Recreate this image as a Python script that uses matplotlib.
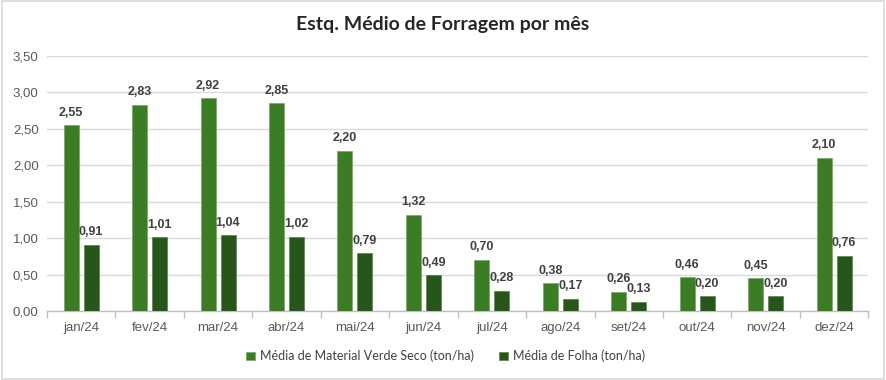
import matplotlib
matplotlib.use("Agg")
import matplotlib.pyplot as plt
import numpy as np
from matplotlib.patches import Rectangle

months = ["jan/24", "fev/24", "mar/24", "abr/24", "mai/24", "jun/24",
          "jul/24", "ago/24", "set/24", "out/24", "nov/24", "dez/24"]
verde_seco = [2.55, 2.83, 2.92, 2.85, 2.20, 1.32, 0.70, 0.38, 0.26, 0.46, 0.45, 2.10]
folha = [0.91, 1.01, 1.04, 1.02, 0.79, 0.49, 0.28, 0.17, 0.13, 0.20, 0.20, 0.76]
series_names = ["Média de Material Verde Seco (ton/ha)", "Média de Folha (ton/ha)"]
colors = ["#3b7d23", "#27561a"]
yticks = [0, 0.5, 1.0, 1.5, 2.0, 2.5, 3.0, 3.5]

fig = plt.figure(figsize=(8.86, 3.80), dpi=100)
fig.patch.set_facecolor("white")
fig.patches.append(Rectangle((0.002, 0.003), 0.996, 0.994, transform=fig.transFigure,
                             fill=False, edgecolor="#d9d9d9", linewidth=1.2))

ax = fig.add_axes([0.053, 0.1816, 0.927, 0.671])
x = np.arange(len(months))
w = 0.22
off = 0.146
b1 = ax.bar(x - off, verde_seco, w, color=colors[0], edgecolor="#6fa05a", linewidth=0.4,
            label=series_names[0], zorder=3)
b2 = ax.bar(x + off, folha, w, color=colors[1], edgecolor="#4a7a3a", linewidth=0.4,
            label=series_names[1], zorder=3)

def fmt(v):
    return f"{v:.2f}".replace(".", ",")

for xi, v in zip(x, verde_seco):
    ax.text(xi - off, v + 0.09, fmt(v), ha="center", va="bottom", fontsize=9,
            fontweight="bold", color="#404040", family="Liberation Sans")
for xi, v in zip(x, folha):
    ax.text(xi + off, v + 0.09, fmt(v), ha="center", va="bottom", fontsize=9,
            fontweight="bold", color="#404040", family="Liberation Sans")

ax.set_xlim(-0.5, len(months) - 0.5)
ax.set_ylim(0, 3.5)
ax.set_yticks(yticks)
ax.set_yticklabels([fmt(t) for t in yticks], fontsize=9.5, color="#595959",
                   family="Liberation Sans")
ax.set_xticks(x)
ax.set_xticklabels(months, fontsize=9.5, color="#595959", family="Liberation Sans")
ax.tick_params(axis="x", length=0, pad=8)
ax.tick_params(axis="y", length=0, pad=6)
ax.set_xticks(np.arange(-0.5, len(months)), minor=True)
ax.tick_params(axis="x", which="minor", length=5, color="#bfbfbf", width=1)
ax.grid(axis="y", color="#d9d9d9", linewidth=1, zorder=0)
for s in ["top", "right", "left"]:
    ax.spines[s].set_visible(False)
ax.spines["bottom"].set_color("#bfbfbf")
ax.spines["bottom"].set_linewidth(1)

fig.text(0.5, 0.935, "Estq. Médio de Forragem por mês", ha="center", va="center",
         fontsize=14, fontweight="bold", color="#262626", family="Lato")

leg = fig.legend(handles=[b1, b2], loc="center", bbox_to_anchor=(0.503, 0.063), ncol=2,
                 frameon=False, handlelength=0.7, handleheight=0.7,
                 handletextpad=0.4, columnspacing=2.0, prop={"family": "Lato", "size": 9})
for t in leg.get_texts():
    t.set_color("#404040")

fig.savefig("out.png", dpi=100)
